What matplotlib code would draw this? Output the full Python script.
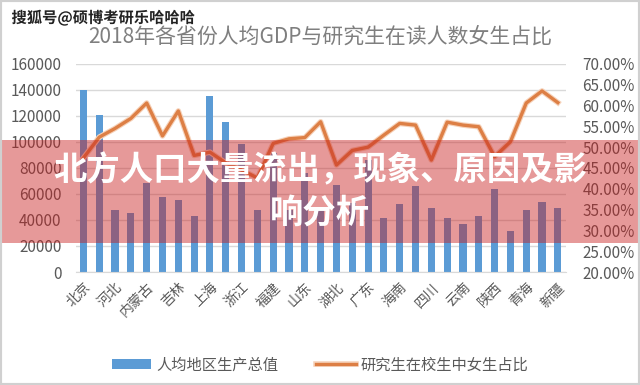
import matplotlib
matplotlib.use('Agg')
import matplotlib.pyplot as plt
import matplotlib.patheffects as pe
from matplotlib.patches import Rectangle
from matplotlib.ticker import FuncFormatter

plt.rcParams['font.family'] = ['Noto Sans CJK SC', 'DejaVu Sans']

provinces = ['北京', '天津', '河北', '山西', '内蒙古', '辽宁', '吉林', '黑龙江', '上海', '江苏',
             '浙江', '安徽', '福建', '江西', '山东', '河南', '湖北', '湖南', '广东', '广西',
             '海南', '重庆', '四川', '贵州', '云南', '西藏', '陕西', '甘肃', '青海', '宁夏', '新疆']
gdp = [140211, 120711, 47772, 45328, 68302, 58008, 55611, 43274, 134982, 115168,
       98643, 47712, 91197, 47434, 76267, 50152, 66616, 52949, 86412, 41489,
       51955, 65933, 48883, 41244, 37136, 43398, 63477, 31336, 47689, 54094, 49475]
female_pct = [47.4, 52.4, 54.5, 56.9, 60.6, 52.7, 58.7, 48.0, 48.8, 46.2,
              44.5, 42.6, 50.9, 52.0, 52.3, 56.1, 45.7, 49.2, 50.0, 52.9,
              55.7, 55.3, 46.9, 56.0, 55.3, 54.9, 47.7, 51.3, 60.6, 63.5, 60.7]
left_ticks = [0, 20000, 40000, 60000, 80000, 100000, 120000, 140000, 160000]
right_ticks = [20, 25, 30, 35, 40, 45, 50, 55, 60, 65, 70]

gray = '#595959'
fig = plt.figure(figsize=(6.4, 3.85), dpi=100)
ax = fig.add_axes([0.118, 0.2935, 0.766, 0.5405])
x = list(range(len(provinces)))

bars = ax.bar(x, gdp, width=0.45, color='#5B9BD5', label='人均地区生产总值', zorder=2)
ax.set_xlim(-0.5, len(provinces) - 0.5)
ax.set_ylim(0, 160000)
ax.set_yticks(left_ticks)
ax.yaxis.grid(True, color='#D9D9D9', linewidth=1)
ax.set_axisbelow(True)
for s in ['top', 'right', 'left']:
    ax.spines[s].set_visible(False)
ax.spines['bottom'].set_color('#D9D9D9')
ax.tick_params(axis='y', length=0, labelsize=11, labelcolor=gray, pad=10)
ax.set_xticks(x[::2])
ax.set_xticklabels(provinces[::2], rotation=45, ha='right', rotation_mode='anchor',
                   fontsize=10, color=gray, fontweight='light')
ax.tick_params(axis='x', length=0, pad=6)

ax2 = ax.twinx()
line, = ax2.plot(x, female_pct, color='#DD7F45', linewidth=2.4, label='研究生在校生中女生占比',
                 path_effects=[pe.Stroke(linewidth=4, foreground='#F6D2BA'), pe.Normal()], zorder=3)
ax2.set_ylim(20, 70)
ax2.set_yticks(right_ticks)
ax2.yaxis.set_major_formatter(FuncFormatter(lambda v, p: '%.2f%%' % v))
for s in ['top', 'right', 'left', 'bottom']:
    ax2.spines[s].set_visible(False)
ax2.tick_params(axis='y', length=0, labelsize=11, labelcolor=gray, pad=12)

fig.text(0.5, 0.905, '2018年各省份人均GDP与研究生在读人数女生占比', ha='center', va='center',
         fontsize=15, color='#7F7F7F', fontweight='light')

leg = fig.legend(handles=[bars, line], loc='center', bbox_to_anchor=(0.5, 0.052), ncol=2,
                 frameon=False, fontsize=11, handlelength=2.6, columnspacing=2.5,
                 handletextpad=0.3)
for t in leg.get_texts():
    t.set_color(gray)

# watermark
fig.text(0.018, 0.953, '搜狐号@硕博考研乐哈哈哈', ha='left', va='center', fontsize=11,
         fontweight='bold', color='#222222', zorder=7,
         path_effects=[pe.withStroke(linewidth=2, foreground='white')])

# red banner
fig.patches.append(Rectangle((0, 0.369), 1, 0.267, transform=fig.transFigure,
                             facecolor='#C81E1E', alpha=0.45, edgecolor='none', zorder=5))
fig.text(0.5, 0.556, '北方人口大量流出，现象、原因及影', ha='center', va='center',
         fontsize=24, fontweight='bold', color='white', zorder=6)
fig.text(0.5, 0.447, '响分析', ha='center', va='center',
         fontsize=24, fontweight='bold', color='white', zorder=6)

# outer frame
fig.patches.append(Rectangle((0, 0), 1, 1, transform=fig.transFigure, facecolor='none',
                             edgecolor='#D0D0D0', linewidth=3, zorder=8))

fig.savefig('out.png', dpi=100)
